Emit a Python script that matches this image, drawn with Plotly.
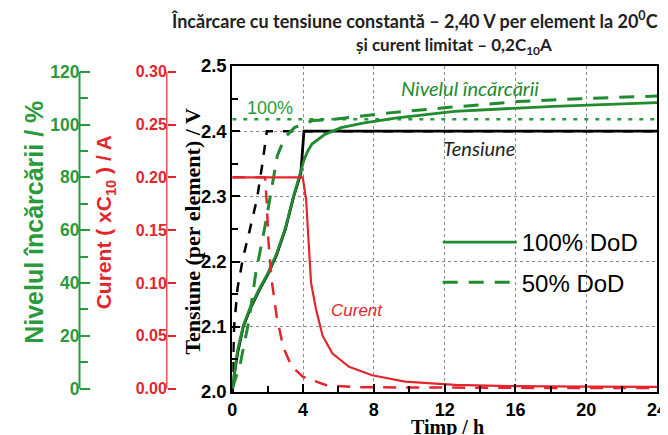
import plotly.graph_objects as go

# ---------------- data ----------------
# Voltage per element (V)
t_v100 = [0, 0.1, 0.3, 0.62, 1.0, 1.5, 2.0, 2.5, 3.0, 3.47, 3.87, 3.95, 4.05, 8, 12, 16, 20, 24]
v100 = [2.00, 2.025, 2.06, 2.10, 2.127, 2.155, 2.18, 2.21, 2.25, 2.30, 2.335, 2.36, 2.40, 2.40, 2.40, 2.40, 2.40, 2.40]
t_v50 = [0, 0.1, 0.3, 0.6, 1.0, 1.4, 1.7, 1.95, 24]
v50 = [2.00, 2.10, 2.16, 2.205, 2.25, 2.297, 2.35, 2.40, 2.40]

# Charge level (%)
t_c100 = [0, 0.1, 0.3, 0.62, 1.0, 1.5, 2.0, 2.5, 3.0, 3.47, 3.87, 4.05, 4.25, 4.5, 5.22, 6.15, 7.46, 9.31, 12.56, 18.17, 24]
c100 = [0, 5.5, 14.5, 23.8, 30.5, 37.4, 43.5, 51.0, 60.8, 73.1, 81.7, 86.5, 89.8, 92.6, 96.2, 98.8, 100.6, 102.5, 105.0, 106.9, 108.3]
t_c50 = [0, 0.45, 0.93, 1.32, 1.85, 2.22, 2.55, 2.97, 3.53, 4.54, 5.66, 7.07, 9.03, 12.1, 16.15, 19.7, 24]
c50 = [0, 9.4, 25.3, 43.4, 61.5, 76.2, 88.3, 95.1, 98.9, 101.5, 101.9, 103.0, 104.5, 106.4, 108.7, 109.8, 110.8]
t_ref = [0, 24]
c_ref = [102, 102]

# Current (x C10, A)
t_i100 = [0, 3.98, 4.17, 4.32, 4.45, 4.73, 5.1, 5.66, 6.6, 7.9, 9.76, 12.6, 16, 20, 24]
i100 = [0.2, 0.2, 0.179, 0.132, 0.100, 0.075, 0.050, 0.033, 0.0205, 0.0125, 0.0065, 0.0035, 0.0022, 0.0018, 0.0015]
t_i50 = [0, 1.85, 1.95, 2.04, 2.23, 2.51, 2.88, 3.35, 4.0, 5.27, 6.95, 10, 16, 24]
i50 = [0.2, 0.2, 0.175, 0.140, 0.102, 0.068, 0.039, 0.021, 0.011, 0.0033, 0.0012, 0.0008, 0.0006, 0.0005]

x_ticks = [0, 4, 8, 12, 16, 20, 24]

# ---------------- styles ----------------
GREEN = '#228b30'
GREEN_TXT = '#2a9a3c'
RED = '#e3262e'
SANS = 'Liberation Sans, Arial, sans-serif'
SERIF = 'Liberation Serif, Times New Roman, serif'
HUM = 'Lato, Open Sans, sans-serif'

W, H = 668, 435
OFF = 8  # page body offset
ML, MR, MT, MB = 2, 19, 58, 51
PW = W - ML - MR
PH = H - MT - MB


def px(xr):
    return (xr - OFF - ML) / PW


def py(yr):
    return (H - MB - (yr - OFF)) / PH


fig = go.Figure()

# voltage (black, main y)
fig.add_trace(go.Scatter(x=t_v50, y=v50, mode='lines', showlegend=False,
                         line=dict(color='black', width=2.5, dash='10px,10px')))
fig.add_trace(go.Scatter(x=t_v100, y=v100, mode='lines', showlegend=False,
                         line=dict(color='black', width=2.8)))
# charge level (green, y2)
fig.add_trace(go.Scatter(x=t_ref, y=c_ref, yaxis='y2', mode='lines', showlegend=False,
                         line=dict(color=GREEN_TXT, width=2.5, dash='4px,7px')))
fig.add_trace(go.Scatter(x=t_c100, y=c100, yaxis='y2', mode='lines', name='100% DoD',
                         legendgroup='a', legendrank=1,
                         line=dict(color=GREEN, width=2.8)))
fig.add_trace(go.Scatter(x=t_c50, y=c50, yaxis='y2', mode='lines', name='50% DoD',
                         legendgroup='b', legendrank=2,
                         line=dict(color=GREEN, width=3, dash='15px,11px')))
# current (red, y3)
fig.add_trace(go.Scatter(x=t_i50, y=i50, yaxis='y3', mode='lines', showlegend=False,
                         line=dict(color=RED, width=2.5, dash='13px,10px')))
fig.add_trace(go.Scatter(x=t_i100, y=i100, yaxis='y3', mode='lines', showlegend=False,
                         line=dict(color=RED, width=2.2)))

g0 = (388.5 - 392) / 2.64
g1 = (388.5 - 66) / 2.64

fig.update_layout(
    width=W, height=H,
    margin=dict(l=ML, r=MR, t=MT, b=MB),
    paper_bgcolor='white', plot_bgcolor='white',
    showlegend=True,
    legend=dict(x=px(436), y=py(220), xanchor='left', yanchor='top',
                font=dict(family=SANS, size=24, color='black'),
                bgcolor='rgba(0,0,0,0)', itemwidth=74, tracegroupgap=6,
                traceorder='grouped'),
    xaxis=dict(domain=[px(229), 1], range=[0, 24], tickvals=x_ticks,
               ticks='inside', ticklen=8, tickwidth=1.5, tickcolor='black',
               minor=dict(dtick=2, tick0=0, ticks='inside', ticklen=6, tickcolor='black', showgrid=False),
               showline=True, linecolor='black', linewidth=2, mirror=True,
               showgrid=True, gridcolor='#8c8c8c', griddash='dot', gridwidth=1,
               zeroline=False,
               tickfont=dict(family=SANS, size=18, color='black', weight='bold')),
    yaxis=dict(range=[2.0, 2.5], dtick=0.1, tick0=2.0, tickformat='.1f',
               ticks='inside', ticklen=8, tickwidth=1.5, tickcolor='black',
               minor=dict(dtick=0.05, ticks='inside', ticklen=6, tickcolor='black', showgrid=False),
               showline=True, linecolor='black', linewidth=2, mirror=True,
               showgrid=True, gridcolor='#8c8c8c', griddash='dot', gridwidth=1,
               zeroline=False,
               tickfont=dict(family=SANS, size=18.5, color='black', weight='bold')),
    yaxis2=dict(overlaying='y', anchor='free', position=px(75), side='left',
                range=[g0, g1], tick0=0, dtick=20,
                ticks='inside', ticklen=10, tickwidth=2, tickcolor=GREEN_TXT,
                minor=dict(dtick=10, ticks='inside', ticklen=8, tickwidth=2, tickcolor=GREEN_TXT, showgrid=False),
                showline=False, showgrid=False, zeroline=False,
                tickfont=dict(family=SANS, size=17.5, color=GREEN_TXT, weight='bold')),
    yaxis3=dict(overlaying='y', anchor='free', position=px(163), side='left',
                range=[g0 / 400, g1 / 400], tick0=0, dtick=0.05, tickformat='.2f',
                ticks='inside', ticklen=8, tickwidth=1.5, tickcolor=RED,
                showline=False, showgrid=False, zeroline=False,
                tickfont=dict(family=SANS, size=16, color=RED, weight='bold')),
    shapes=[
        dict(type='line', xref='paper', yref='y2', x0=px(75), x1=px(75), y0=0, y1=120,
             line=dict(color=GREEN_TXT, width=2)),
        dict(type='line', xref='paper', yref='y3', x0=px(163), x1=px(163), y0=0, y1=0.30,
             line=dict(color=RED, width=1.2)),
    ],
)

ann = [
    dict(text='Încărcare cu tensiune constantă – 2,40 V per element la 20<sup>0</sup>C',
         x=px(165), y=py(20), xanchor='left', yanchor='middle',
         font=dict(family=HUM, size=18, color='#222', weight='bold')),
    dict(text='și curent limitat – 0,2C<sub>10</sub>A',
         x=px(352), y=py(46), xanchor='left', yanchor='middle',
         font=dict(family=HUM, size=17, color='#222', weight='bold')),
    dict(text='Nivelul încărcării / %', x=px(29), y=py(222), textangle=-90,
         font=dict(family=SANS, size=25, color=GREEN_TXT, weight='bold')),
    dict(text='Curent ( xC<sub>10</sub> ) / A', x=px(101), y=py(222), textangle=-90,
         font=dict(family=SANS, size=21, color=RED, weight='bold')),
    dict(text='Tensiune (per element) / V', x=px(188), y=py(231), textangle=-90,
         font=dict(family=SERIF, size=22, color='black', weight='bold')),
    dict(text='Timp / h', x=px(446), y=py(427),
         font=dict(family=SERIF, size=20, color='black', weight='bold')),
    dict(text='<i>Nivelul încărcării</i>', x=px(469), y=py(88),
         font=dict(family=HUM, size=20, color=GREEN)),
    dict(text='<i>Tensiune</i>', x=px(478), y=py(148),
         font=dict(family=HUM, size=20, color='#222')),
    dict(text='100%', x=px(267), y=py(108),
         font=dict(family=SANS, size=18, color=GREEN_TXT)),
    dict(text='<i>Curent</i>', x=px(355), y=py(310),
         font=dict(family=SANS, size=17, color=RED)),
]
for a in ann:
    a.setdefault('xanchor', 'center')
    a.setdefault('yanchor', 'middle')
    fig.add_annotation(xref='paper', yref='paper', showarrow=False, **a)

fig.write_html('out.html')
